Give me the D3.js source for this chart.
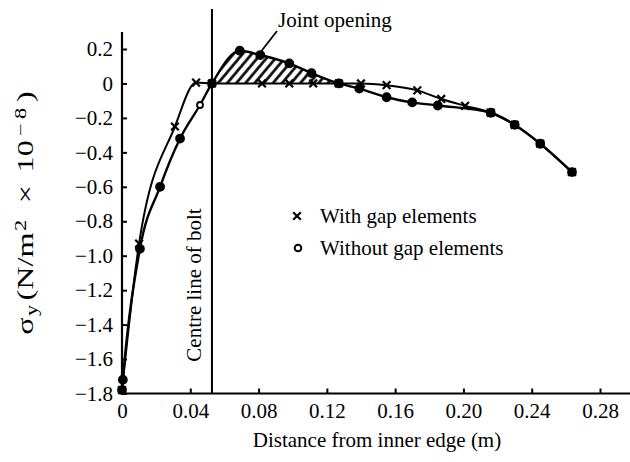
<!DOCTYPE html>
<html>
<head>
<meta charset="utf-8">
<script src="https://cdn.jsdelivr.net/npm/d3@7"></script>
<style>
  body { margin: 0; background: #fff; }
  svg { font-family: "Liberation Serif", "DejaVu Serif", serif; }
  .axis text { font-size: 21px; fill: #000; font-family: "Liberation Serif", serif; }
  .axis line { stroke: #000; stroke-width: 2; }
</style>
</head>
<body>
<div id="chart"></div>
<script>
// Dades llegides del gràfic
const withGapX = [0, 0.010, 0.031, 0.0434, 0.0527, 0.082, 0.098, 0.112, 0.127, 0.140, 0.155, 0.173, 0.187, 0.201, 0.216, 0.230, 0.245, 0.2636];
const withGapY = [-1.78, -0.93, -0.25, 0.005, 0.0, 0.0, 0.0, 0.0, 0.0, 0.0, -0.01, -0.04, -0.09, -0.13, -0.17, -0.24, -0.35, -0.515];

const withoutGapX = [0, 0.0005, 0.0105, 0.0223, 0.034, 0.0457, 0.0527, 0.069, 0.081, 0.098, 0.111, 0.127, 0.139, 0.155, 0.170, 0.185, 0.216, 0.230, 0.245, 0.2636];
const withoutGapY = [-1.78, -1.72, -0.96, -0.60, -0.32, -0.125, 0.0, 0.19, 0.165, 0.116, 0.06, 0.0, -0.03, -0.08, -0.11, -0.128, -0.17, -0.24, -0.35, -0.515];
const openMarker = [0.0457]; // punt buit

const xTicks = [0, 0.04, 0.08, 0.12, 0.16, 0.20, 0.24, 0.28];
const yTicks = [0.2, 0, -0.2, -0.4, -0.6, -0.8, -1.0, -1.2, -1.4, -1.6, -1.8];
const boltX = 0.0527;
const openingRange = [0.0527, 0.127];

const W = 630, H = 462;

const svg = d3.select("#chart").append("svg")
  .attr("width", W)
  .attr("height", H);

// Escales
const x = d3.scaleLinear().domain([0, 0.28]).range([122, 600]);
const y = d3.scaleLinear().domain([-1.8, 0.2]).range([393.5, 49]);

const withGap = withGapX.map((d, i) => ({ x: d, y: withGapY[i] }));
const withoutGap = withoutGapX.map((d, i) => ({ x: d, y: withoutGapY[i] }));

// Patró ratllat
const defs = svg.append("defs");
defs.append("pattern")
  .attr("id", "hatch")
  .attr("patternUnits", "userSpaceOnUse")
  .attr("width", 7)
  .attr("height", 7)
  .attr("patternTransform", "rotate(40)")
  .append("line")
  .attr("x1", 3.5).attr("y1", 0)
  .attr("x2", 3.5).attr("y2", 7)
  .attr("stroke", "#000")
  .attr("stroke-width", 2.6);

defs.append("clipPath")
  .attr("id", "openClip")
  .append("rect")
  .attr("x", x(openingRange[0]))
  .attr("y", 0)
  .attr("width", x(openingRange[1]) - x(openingRange[0]))
  .attr("height", y(0));

const curve = d3.curveMonotoneX;

svg.append("path")
  .datum(withoutGap)
  .attr("clip-path", "url(#openClip)")
  .attr("fill", "url(#hatch)")
  .attr("d", d3.area().x(d => x(d.x)).y0(y(0)).y1(d => y(d.y)).curve(curve));

// Eixos
const fmtX = d => d === 0 ? "0" : d3.format(".2f")(d);
const fmtY = d => d === 0 ? "0" : (d < 0 ? "\u2212" : "") + d3.format(".1f")(Math.abs(d));

svg.append("g")
  .attr("class", "axis")
  .attr("transform", `translate(0,${y(-1.8)})`)
  .call(d3.axisBottom(x).tickValues(xTicks).tickSize(-5).tickSizeOuter(0).tickPadding(10).tickFormat(fmtX))
  .call(g => g.select(".domain").remove());

svg.append("line")
  .attr("x1", x(0) - 1).attr("x2", W)
  .attr("y1", y(-1.8)).attr("y2", y(-1.8))
  .attr("stroke", "#000").attr("stroke-width", 2.2);

svg.append("g")
  .attr("class", "axis")
  .attr("transform", `translate(${x(0)},0)`)
  .call(d3.axisLeft(y).tickValues(yTicks).tickSize(-5).tickSizeOuter(0).tickPadding(9).tickFormat(fmtY))
  .call(g => g.select(".domain").remove());

svg.append("line")
  .attr("x1", x(0)).attr("x2", x(0))
  .attr("y1", 32).attr("y2", y(-1.8))
  .attr("stroke", "#000").attr("stroke-width", 2.2);

// Línia central del cargol
svg.append("line")
  .attr("x1", x(boltX)).attr("x2", x(boltX))
  .attr("y1", 9).attr("y2", y(-1.8))
  .attr("stroke", "#000").attr("stroke-width", 2);

svg.append("text")
  .attr("transform", `translate(${x(boltX) - 11},285) rotate(-90)`)
  .attr("text-anchor", "middle")
  .style("font-size", "21px")
  .text("Centre line of bolt");

// Corbes
const line = d3.line().x(d => x(d.x)).y(d => y(d.y)).curve(curve);

svg.append("path")
  .datum(withGap)
  .attr("fill", "none")
  .attr("stroke", "#000")
  .attr("stroke-width", 2)
  .attr("d", line);

svg.append("path")
  .datum(withoutGap)
  .attr("fill", "none")
  .attr("stroke", "#000")
  .attr("stroke-width", 2.4)
  .attr("d", line);

// Marcadors
const cross = d3.symbol().type(d3.symbolX).size(40);

svg.selectAll("path.cross")
  .data(withGap)
  .enter().append("path")
  .attr("class", "cross")
  .attr("transform", d => `translate(${x(d.x)},${y(d.y)})`)
  .attr("d", cross)
  .attr("stroke", "#000")
  .attr("stroke-width", 2.2);

svg.selectAll("circle.dot")
  .data(withoutGap)
  .enter().append("circle")
  .attr("class", "dot")
  .attr("cx", d => x(d.x))
  .attr("cy", d => y(d.y))
  .attr("r", d => openMarker.includes(d.x) ? 3 : 4)
  .attr("fill", d => openMarker.includes(d.x) ? "#fff" : "#000")
  .attr("stroke", "#000")
  .attr("stroke-width", 1.8);

// Anotació
svg.append("text")
  .attr("x", 278)
  .attr("y", 27)
  .style("font-size", "21px")
  .text("Joint opening");

svg.append("line")
  .attr("x1", 277).attr("y1", 31)
  .attr("x2", 256).attr("y2", 58)
  .attr("stroke", "#000").attr("stroke-width", 1.8);

// Llegenda
const legend = svg.append("g");

legend.append("path")
  .attr("transform", "translate(297,216)")
  .attr("d", cross)
  .attr("stroke", "#000")
  .attr("stroke-width", 2.2);

legend.append("circle")
  .attr("cx", 298).attr("cy", 248).attr("r", 3.3)
  .attr("fill", "#fff").attr("stroke", "#000").attr("stroke-width", 2);

legend.append("text")
  .attr("x", 320).attr("y", 223)
  .style("font-size", "21px")
  .text("With gap elements");

legend.append("text")
  .attr("x", 320).attr("y", 255)
  .style("font-size", "21px")
  .text("Without gap elements");

// Títols dels eixos
svg.append("text")
  .attr("x", 377)
  .attr("y", 447)
  .attr("text-anchor", "middle")
  .style("font-size", "21px")
  .text("Distance from inner edge (m)");

const yLabel = svg.append("text")
  .attr("text-anchor", "middle")
  .style("font-size", "23px");

yLabel.append("tspan").text("\u03c3");
yLabel.append("tspan").attr("dx", 1).attr("baseline-shift", "-25%").style("font-size", "16px").text("y");
yLabel.append("tspan").attr("dx", 3).text("(N/m");
yLabel.append("tspan").attr("dx", 1).attr("baseline-shift", "40%").style("font-size", "16px").text("2");
yLabel.append("tspan").attr("dx", 12).text("\u00d7");
yLabel.append("tspan").attr("dx", 9).text("10");
yLabel.append("tspan").attr("dx", 3).attr("baseline-shift", "40%").style("font-size", "16px").text("\u2212\u20098");
yLabel.append("tspan").attr("dx", 4).text(")");

// Estirar l'etiqueta fins a la llargada de l'original
const labelLen = yLabel.node().getComputedTextLength();
const k = Math.min(1.4, 236 / labelLen);
yLabel.attr("transform", `translate(33,213) rotate(-90) scale(${k},1)`);
</script>
</body>
</html>
